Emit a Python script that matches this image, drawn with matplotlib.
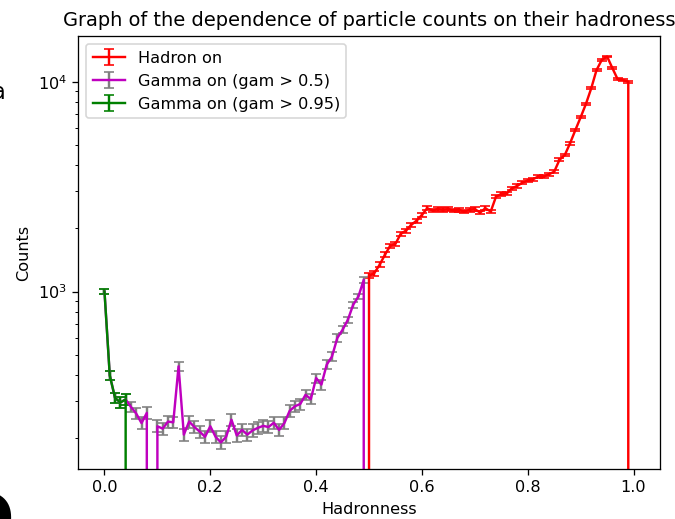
import numpy as np
import matplotlib.pyplot as plt

# hadronness bins, step 0.01
hadronness = np.round(np.arange(101) * 0.01, 2)

hadron_on = [0] * 50 + [
    1188, 1224, 1340, 1496, 1650, 1688, 1885, 1952, 2079, 2178,
    2318, 2494, 2433, 2470, 2450, 2470, 2433, 2450, 2404, 2450,
    2470, 2378, 2494, 2404, 2832, 2916, 2930, 3106, 3184, 3302,
    3378, 3430, 3530, 3530, 3620, 3722, 4241, 4470, 5089, 5878,
    6766, 7836, 9294, 11358, 12700, 13178, 11600, 10260, 10190, 10000,
] + [0]

gamma_05 = [
    1000, 398, 311, 296, 306, 282, 262, 236, 264, 0,
    228, 222, 240, 238, 440, 208, 240, 226, 215, 203,
    228, 203, 191, 203, 245, 206, 219, 208, 218, 224,
    229, 226, 237, 219, 236, 270, 284, 291, 322, 307,
    387, 360, 448, 490, 600, 657, 733, 864, 947, 1137,
] + [0] * 51

gamma_095 = [1000, 398, 311, 296, 306] + [0] * 96

hadron_on = np.array(hadron_on, dtype=float)
gamma_05 = np.array(gamma_05, dtype=float)
gamma_095 = np.array(gamma_095, dtype=float)

dpi = 116
fig = plt.figure(figsize=(675 / dpi, 519 / dpi), dpi=dpi)
ax = fig.add_axes([0.1156, 0.0963, 0.8622, 0.8343])

ax.errorbar(hadronness, hadron_on, yerr=np.sqrt(hadron_on), color='red',
            ecolor='red', capsize=3, label='Hadron on')
ax.errorbar(hadronness, gamma_05, yerr=np.sqrt(gamma_05), color='m',
            ecolor='grey', capsize=3, label='Gamma on (gam > 0.5)')
ax.errorbar(hadronness, gamma_095, yerr=np.sqrt(gamma_095), color='green',
            ecolor='green', capsize=3, label='Gamma on (gam > 0.95)')

ax.set_yscale('log')
ax.set_xlim(-0.05, 1.05)
ax.set_ylim(142.6, 16500)
ax.set_xlabel('Hadronness')
ax.set_ylabel('Counts')
ax.set_title('Graph of the dependence of particle counts on their hadroness')
ax.legend(loc='upper left')

# bits of neighbouring text cut off at the left edge
fig.text(-0.013, 0.81, 'a', fontsize=14)
fig.text(-0.065, -0.045, 'O', fontsize=42, fontweight='bold')

fig.savefig('out.png', dpi=dpi)
